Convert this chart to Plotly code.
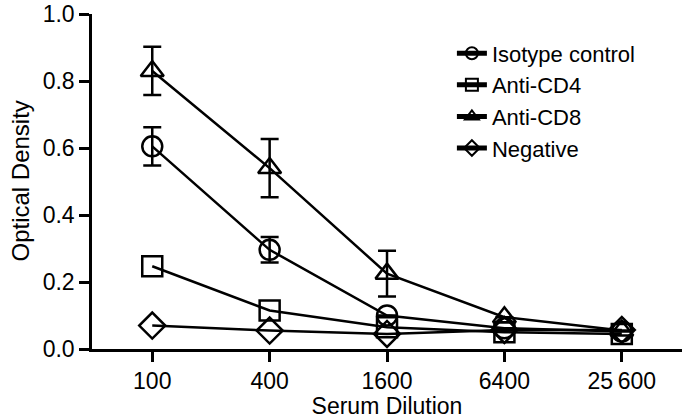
import plotly.graph_objects as go

dilutions = [100, 400, 1600, 6400, 25600]
tick_labels = ["100", "400", "1600", "6400", "25\u2009600"]

isotype = [0.605, 0.296, 0.10, 0.062, 0.052]
isotype_err = [0.057, 0.038, 0.0, 0.0, 0.0]
anti_cd4 = [0.247, 0.115, 0.065, 0.050, 0.045]
anti_cd8 = [0.830, 0.540, 0.225, 0.095, 0.055]
anti_cd8_err = [0.072, 0.087, 0.068, 0.0, 0.0]
negative = [0.070, 0.055, 0.045, 0.057, 0.057]

series = [
    ("Isotype control", isotype, isotype_err, "circle-open"),
    ("Anti-CD4", anti_cd4, None, "square-open"),
    ("Anti-CD8", anti_cd8, anti_cd8_err, "triangle-up-open"),
    ("Negative", negative, None, "diamond-open"),
]

fig = go.Figure()
for name, vals, err, sym in series:
    fig.add_trace(go.Scatter(
        x=dilutions, y=vals, name=name, mode="lines+markers",
        line=dict(color="black", width=2.5),
        marker=dict(symbol=sym, size=20, color="black", line=dict(width=2.5, color="black")),
        error_y=dict(type="data", array=err, visible=err is not None,
                     color="black", thickness=2.5, width=9),
    ))

font = dict(family="Liberation Sans, Arial, sans-serif", size=23, color="black")
fig.update_layout(
    width=684, height=419,
    margin=dict(l=92, r=2, t=14, b=70),
    plot_bgcolor="white", paper_bgcolor="white",
    font=font,
    showlegend=True,
    legend=dict(x=0.61, y=0.945, xanchor="left", yanchor="top",
                font=dict(size=22), itemsizing="constant", tracegroupgap=0,
                bgcolor="rgba(0,0,0,0)"),
)
fig.update_xaxes(
    type="log", range=[2 - 0.309, 4.408 + 0.309], automargin=False,
    tickvals=dilutions, ticktext=tick_labels,
    showline=True, linecolor="black", linewidth=2.5,
    ticks="outside", ticklen=10, tickwidth=2.5, tickcolor="black",
    showgrid=False, zeroline=False,
    title=dict(text="Serum Dilution", font=dict(size=23), standoff=0),
)
fig.update_yaxes(
    range=[0, 1.0], tickvals=[0, 0.2, 0.4, 0.6, 0.8, 1.0], tickformat=".1f",
    automargin=False,
    showline=True, linecolor="black", linewidth=2.5,
    ticks="outside", ticklen=10, tickwidth=2.5, tickcolor="black",
    showgrid=False, zeroline=False,
)
# y title placed by hand, closer to the tick labels than plotly allows
fig.add_annotation(
    text="Optical Density", textangle=-90, showarrow=False,
    xref="paper", yref="paper", x=-0.122, y=0.5,
    xanchor="center", yanchor="middle", font=dict(size=24),
)

# drop the default 8px page margin so the figure sits at the window's corner
fig.write_html("out.html", config={"displayModeBar": False},
               post_script="document.body.style.margin='0';")
